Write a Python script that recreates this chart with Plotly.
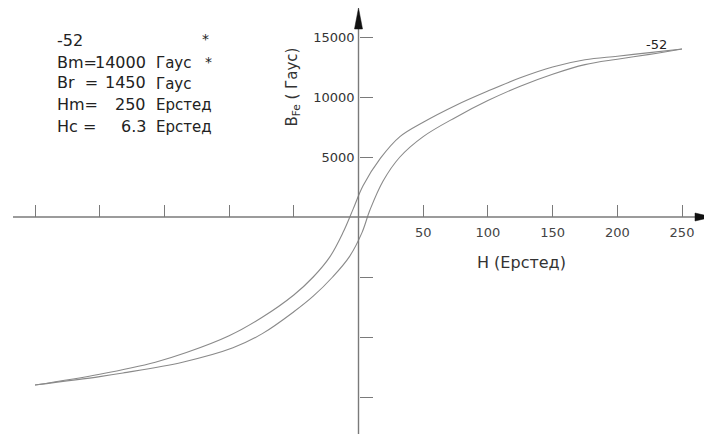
import plotly.graph_objects as go

# Descending (upper) branch of the hysteresis loop
H_upper = [250, 225, 200, 175, 150, 125, 100, 75, 50, 32, 17, 3.5, -4, -12, -22, -35, -50, -75, -100, -133, -157, -200, -250]
B_upper = [14000, 13700, 13400, 13100, 12500, 11600, 10500, 9300, 7900, 6700, 4900, 2600, 700, -1300, -3300, -5000, -6500, -8400, -9900, -11300, -12100, -13100, -14000]

# Ascending (lower) branch
H_lower = [-250, -200, -182, -136, -97, -74, -50, -35, -20, -7, 2.7, 8.9, 19, 32, 50, 75, 100, 125, 150, 175, 200, 225, 250]
B_lower = [-14000, -13300, -13000, -12100, -10900, -9700, -7900, -6600, -5000, -3300, -1300, 600, 3000, 5000, 6700, 8300, 9700, 10900, 11900, 12700, 13150, 13550, 14000]

x_tickvals = [-250, -200, -150, -100, -50, 50, 100, 150, 200, 250]
x_ticktext = ["", "", "", "", "", "50", "100", "150", "200", "250"]
y_tickvals = [-15000, -10000, -5000, 5000, 10000, 15000]
y_ticktext = ["", "", "", "5000", "10000", "15000"]

info_left = ["-52", "Bm=", "Br  =", "Hm=", "Hc ="]
info_num = ["", "14000", "1450", "250", "6.3"]
info_unit = ["", "Гаус", "Гаус", "Ерстед", "Ерстед"]

W, Hh = 712, 434
OFF = 8  # page body margin
X0PX, Y0PX = 358.5, 217.0  # axis origin in window pixels
XS, YS = 1.294, 0.012  # px per unit

def px(x):
    return (x - OFF) / W

def py(y):
    return 1 - (y - OFF) / Hh

x0f = X0PX - OFF
y0f = Y0PX - OFF
xr = [-x0f / XS, (W - x0f) / XS]
yr = [-(Hh - y0f) / YS, y0f / YS]

line_col = "#8a8a8a"
axis_col = "#7a7a7a"
FONT = "DejaVu Sans"

fig = go.Figure()
fig.add_trace(go.Scatter(x=H_upper, y=B_upper, mode="lines",
                         line=dict(color=line_col, width=1.1, shape="spline", smoothing=1.0),
                         hoverinfo="skip", showlegend=False))
fig.add_trace(go.Scatter(x=H_lower, y=B_lower, mode="lines",
                         line=dict(color=line_col, width=1.1, shape="spline", smoothing=1.0),
                         hoverinfo="skip", showlegend=False))

shapes = [
    dict(type="line", xref="paper", yref="paper", x0=px(13), x1=px(699), y0=py(Y0PX), y1=py(Y0PX),
         line=dict(color=axis_col, width=1.4)),
    dict(type="line", xref="paper", yref="paper", x0=px(X0PX), x1=px(X0PX), y0=py(26), y1=py(442),
         line=dict(color=axis_col, width=1.4)),
    dict(type="path", xref="paper", yref="paper",
         path=f"M {px(X0PX)} {py(8)} L {px(X0PX-4)} {py(29)} L {px(X0PX+4)} {py(29)} Z",
         fillcolor="#111", line=dict(color="#111", width=0.5)),
    dict(type="path", xref="paper", yref="paper",
         path=f"M {px(712)} {py(Y0PX)} L {px(695)} {py(Y0PX-4)} L {px(695)} {py(Y0PX+4)} Z",
         fillcolor="#111", line=dict(color="#111", width=0.5)),
]

annotations = []
ys = [40, 62, 83, 104, 126]
for i, y in enumerate(ys):
    annotations.append(dict(x=px(55), y=py(y), xref="paper", yref="paper", text=info_left[i],
                            showarrow=False, xanchor="left", yanchor="middle",
                            font=dict(family=FONT, size=16, color="#222")))
    if info_num[i]:
        annotations.append(dict(x=px(148), y=py(y), xref="paper", yref="paper", text=info_num[i],
                                showarrow=False, xanchor="right", yanchor="middle",
                                font=dict(family=FONT, size=16, color="#222")))
    if info_unit[i]:
        annotations.append(dict(x=px(154), y=py(y + 1), xref="paper", yref="paper", text=info_unit[i],
                                showarrow=False, xanchor="left", yanchor="middle",
                                font=dict(family=FONT, size=15, color="#222")))
annotations.append(dict(x=px(200), y=py(29), xref="paper", yref="paper", text="*", showarrow=False,
                        font=dict(family=FONT, size=14, color="#222")))
annotations.append(dict(x=px(203), y=py(52), xref="paper", yref="paper", text="*", showarrow=False,
                        font=dict(family=FONT, size=14, color="#222")))
annotations.append(dict(x=px(669), y=py(35), xref="paper", yref="paper", text="-52", showarrow=False,
                        font=dict(family=FONT, size=13, color="#222")))
annotations.append(dict(x=px(568), y=py(263), xref="paper", yref="paper", text="H (Ерстед)", showarrow=False,
                        font=dict(family=FONT, size=16, color="#333")))
annotations.append(dict(x=px(292), y=py(46), xref="paper", yref="paper",
                        text="B<sub>Fe</sub> ( Гаус)", textangle=-90, showarrow=False,
                        font=dict(family=FONT, size=15, color="#333")))

fig.update_layout(
    width=W, height=Hh,
    margin=dict(l=0, r=0, t=0, b=0, autoexpand=False),
    paper_bgcolor="white", plot_bgcolor="white",
    showlegend=False,
    shapes=shapes,
    annotations=annotations,
    xaxis=dict(range=xr, domain=[0, 1], anchor="free", position=py(Y0PX), automargin=False,
               showgrid=False, zeroline=False, showline=False,
               tickmode="array", tickvals=x_tickvals, ticktext=x_ticktext,
               ticks="inside", ticklen=12, tickwidth=1.3, tickcolor=axis_col,
               ticklabelstandoff=6,
               tickfont=dict(family=FONT, size=13, color="#444")),
    yaxis=dict(range=yr, domain=[0, 1], anchor="free", position=px(X0PX), automargin=False,
               showgrid=False, zeroline=False, showline=False,
               tickmode="array", tickvals=y_tickvals, ticktext=y_ticktext,
               ticks="inside", ticklen=13, tickwidth=1.3, tickcolor=axis_col,
               ticklabelstandoff=4,
               tickfont=dict(family=FONT, size=13, color="#333")),
)

fig.write_html("out.html")
